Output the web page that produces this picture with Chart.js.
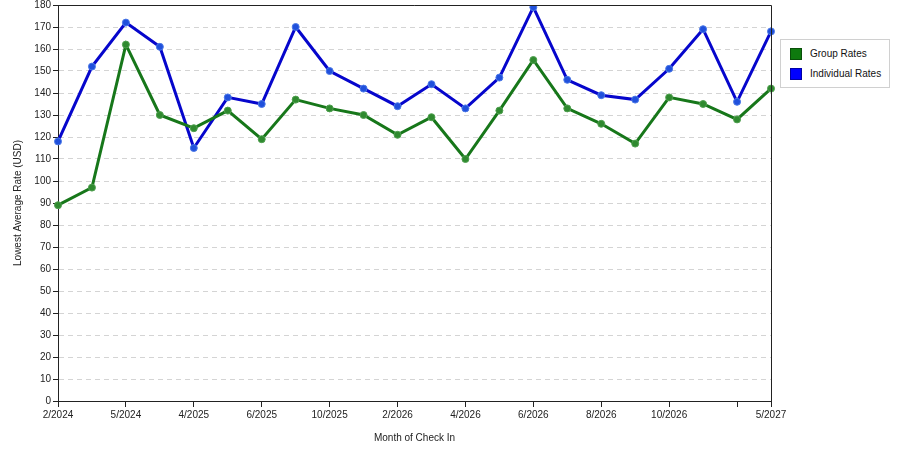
<!DOCTYPE html>
<html>
<head>
<meta charset="utf-8">
<script src="https://cdn.jsdelivr.net/npm/chart.js@4.4.1/dist/chart.umd.min.js"></script>
<style>
  body { margin: 0; background: #fff; }
  #wrap { position: relative; width: 900px; height: 450px; }
  #legend {
    position: absolute; left: 780px; top: 39px; width: 108px; height: 47px;
    border: 1px solid #d0d0d0; background: #fff;
    font-family: "Liberation Sans", Arial, sans-serif; font-size: 10px; color: #111;
  }
  #legend .item { position: absolute; left: 9px; height: 14px; line-height: 14px; white-space: nowrap; }
  #legend .box { display: inline-block; width: 12px; height: 12px; vertical-align: middle; margin-right: 8px; box-sizing: border-box; border: 1px solid rgba(0,0,0,0.35); }
</style>
</head>
<body>
<div id="wrap">
  <canvas id="rateChart" width="900" height="450"></canvas>
  <div id="legend"></div>
</div>
<script>
const months = ["2/2024", "", "5/2024", "", "4/2025", "", "6/2025", "", "10/2025", "", "2/2026",
  "", "4/2026", "", "6/2026", "", "8/2026", "", "10/2026", "", "", "5/2027"];
const groupRates = [89, 97, 162, 130, 124, 132, 119, 137, 133, 130, 121, 129, 110, 132, 155, 133, 126, 117, 138, 135, 128, 142];
const individualRates = [118, 152, 172, 161, 115, 138, 135, 170, 150, 142, 134, 144, 133, 147, 179, 146, 139, 137, 151, 169, 136, 168];
const tickedIndexes = [0, 2, 4, 6, 8, 10, 12, 14, 16, 18, 20, 21];

const fontFamily = '"Liberation Sans", Arial, sans-serif';

// top and right frame lines
const framePlugin = {
  id: "frame",
  afterDraw(chart) {
    const a = chart.chartArea;
    const ctx = chart.ctx;
    ctx.save();
    ctx.strokeStyle = "#222";
    ctx.lineWidth = 1;
    ctx.beginPath();
    ctx.moveTo(a.left, a.top + 0.5);
    ctx.lineTo(a.right + 0.5, a.top + 0.5);
    ctx.lineTo(a.right + 0.5, a.bottom);
    ctx.stroke();
    ctx.restore();
  },
};

const rateCanvas = document.getElementById("rateChart");
const rateChart = new Chart(rateCanvas, {
  type: "line",
  data: {
    labels: months,
    datasets: [
      {
        label: "Group Rates",
        data: groupRates,
        borderColor: "#17771a",
        backgroundColor: "#3b973b",
        legendColor: "#0e7a0e",
        borderWidth: 3,
        pointRadius: 3.5,
        pointBorderWidth: 1,
        pointBorderColor: "#4f9f4f",
        pointBackgroundColor: "#2f8a2f",
        tension: 0,
      },
      {
        label: "Individual Rates",
        data: individualRates,
        borderColor: "#0606cc",
        backgroundColor: "#2a55dd",
        legendColor: "#0000ff",
        borderWidth: 3,
        pointRadius: 3.5,
        pointBorderWidth: 1,
        pointBorderColor: "#4a78e6",
        pointBackgroundColor: "#2050dc",
        tension: 0,
      },
    ],
  },
  options: {
    responsive: false,
    animation: false,
    layout: { padding: { top: 4, right: 129, left: 0, bottom: 0 } },
    plugins: {
      legend: { display: false },
      tooltip: { enabled: false },
    },
    scales: {
      x: {
        offset: false,
        grid: {
          drawOnChartArea: false,
          drawTicks: true,
          tickLength: 6,
          tickColor: (ctx) => (tickedIndexes.includes(ctx.index) ? "#222" : "rgba(0,0,0,0)"),
        },
        border: { color: "#222", width: 1 },
        ticks: {
          autoSkip: false,
          maxRotation: 0,
          color: "#222",
          padding: 2,
          font: { family: fontFamily, size: 10 },
        },
        title: {
          display: true,
          text: "Month of Check In",
          color: "#222",
          font: { family: fontFamily, size: 10 },
          padding: { top: 8, bottom: 6 },
        },
        afterFit: (scale) => { scale.height = 49; },
      },
      y: {
        min: 0,
        max: 180,
        grid: {
          color: "#d4d4d4",
          tickColor: "#222",
          tickLength: 5,
          drawTicks: true,
        },
        border: { color: "#222", width: 1, dash: [5, 4] },
        ticks: {
          stepSize: 10,
          color: "#222",
          padding: 2,
          font: { family: fontFamily, size: 10 },
        },
        title: {
          display: true,
          text: "Lowest Average Rate (USD)",
          color: "#222",
          font: { family: fontFamily, size: 10 },
          padding: { top: 12, bottom: 4 },
        },
        afterFit: (scale) => {
          scale.width = 58;
          scale.paddingTop = 0;
          scale.paddingBottom = 0;
        },
      },
    },
  },
  plugins: [framePlugin],
});

const legendBox = document.getElementById("legend");
rateChart.data.datasets.forEach((ds, i) => {
  const item = document.createElement("div");
  item.className = "item";
  item.style.top = 7 + i * 20 + "px";
  item.innerHTML = `<span class="box" style="background:${ds.legendColor}"></span>${ds.label}`;
  legendBox.appendChild(item);
});
</script>
</body>
</html>
